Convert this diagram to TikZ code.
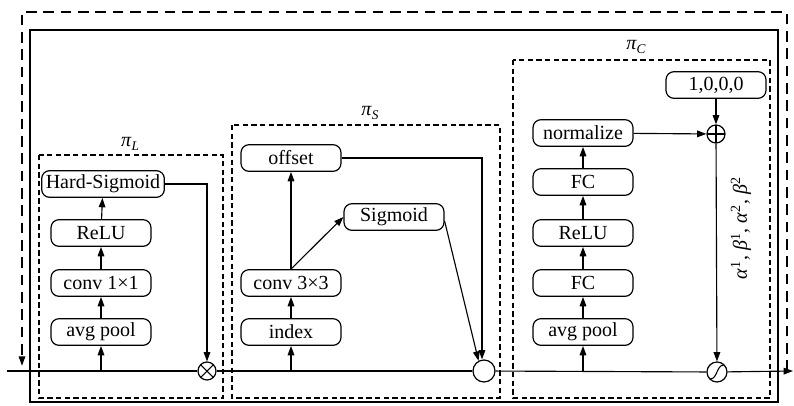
\documentclass[tikz,border=0pt]{standalone}
\usepackage{fontspec}
\setmainfont{Liberation Serif}
\usetikzlibrary{arrows.meta}
\tikzset{
  blk/.style={draw, line width=0.9pt, rounded corners=6pt, minimum width=75pt,
    minimum height=20pt, inner sep=2pt, font=\fontsize{15pt}{17pt}\selectfont},
  arr/.style={-{Triangle[length=7pt,width=5pt]}, line width=0.85pt},
  ln/.style={line width=0.85pt},
  grp/.style={line width=0.9pt, dash pattern=on 4pt off 2.5pt},
  outerdash/.style={line width=0.9pt, dash pattern=on 8pt off 5pt},
  lbl/.style={font=\fontsize{15pt}{17pt}\selectfont},
  opnode/.style={draw, circle, line width=0.9pt, inner sep=0pt, fill=white},
  mulop/.style={opnode, minimum size=13.5pt, path picture={
    \draw[line width=0.8pt] (path picture bounding box.south west) -- (path picture bounding box.north east)
      (path picture bounding box.north west) -- (path picture bounding box.south east);}},
  addop/.style={opnode, minimum size=13.5pt, path picture={
    \draw[line width=0.8pt] (path picture bounding box.south) -- (path picture bounding box.north)
      (path picture bounding box.west) -- (path picture bounding box.east);}},
  combop/.style={opnode, minimum size=16.5pt},
  mixop/.style={opnode, minimum size=15pt, path picture={
    \draw[line width=0.8pt] ([shift={(-5pt,-5pt)}]path picture bounding box.center)
      .. controls ([shift={(0pt,-6pt)}]path picture bounding box.center) and ([shift={(0pt,6pt)}]path picture bounding box.center)
      .. ([shift={(5pt,5pt)}]path picture bounding box.center);}},
}
\begin{document}
\begin{tikzpicture}[x=0.75pt, y=-0.75pt]
\useasboundingbox (0,0) rectangle (794,405);

% frames
\coordinate (outTL) at (22,12);
\coordinate (outTR) at (787,12);
\draw[line width=1.1pt] (30,30) rectangle (778,402);
\draw[grp] (39,155) rectangle (223,398);
\draw[grp] (232,125) rectangle (500,398);
\draw[grp] (513,60) rectangle (770,398);
\node[lbl] (piL) at (130,144) {\textit{π}\raisebox{-0.45ex}{\fontsize{10pt}{12pt}\selectfont\textit{L}}};
\node[lbl] (piS) at (370,113) {\textit{π}\raisebox{-0.45ex}{\fontsize{10pt}{12pt}\selectfont\textit{S}}};
\node[lbl] (piC) at (636,47) {\textit{π}\raisebox{-0.45ex}{\fontsize{10pt}{12pt}\selectfont\textit{C}}};

% main line end points
\coordinate (start) at (7,371);
\coordinate (finish) at (793,371);
\coordinate (skipin) at (787,371);
\coordinate (skipout) at (22,371);

% pi_L branch
\node[blk, minimum width=92pt, inner xsep=1pt] (hs) at (103,184) {Hard-Sigmoid};
\node[blk] (reluL) at (101,233) {ReLU};
\node[blk] (convL) at (101,283) {conv 1×1};
\node[blk] (poolL) at (101,332) {avg pool};
\node[mulop] (mulL) at (207,371) {};

% pi_S branch
\node[blk] (offset) at (291,158) {offset};
\node[blk] (conv3) at (291,283) {conv 3×3};
\node[blk] (index) at (291,332) {index};
\node[blk] (sig) at (394,217) {Sigmoid};
\node[combop] (circS) at (484,371) {};

% pi_C branch
\node[blk] (norm) at (583,133) {normalize};
\node[blk] (fc2) at (583,182) {FC};
\node[blk] (reluC) at (583,233) {ReLU};
\node[blk] (fc1) at (583,283) {FC};
\node[blk] (poolC) at (583,332) {avg pool};
\node[blk] (init) at (716,85) {1,0,0,0};
\node[addop] (plus) at (716,134) {};
\node[mixop] (mix) at (717,372) {};
\node[lbl, rotate=90] (coef) at (741,228)
  {\textit{α}\textsuperscript{1}, \textit{β}\textsuperscript{1}, \textit{α}\textsuperscript{2}, \textit{β}\textsuperscript{2}};

% main path
\draw[ln] (start) -- (mulL);
\draw[ln] (mulL) -- (circS);
\draw[ln] (circS) -- (mix);
\draw[arr] (mix) -- (finish);

% skip connection
\draw[outerdash, arr] (skipin) -- (outTR) -- (outTL) -- ([yshift=4pt]skipout);

% pi_L connectors
\draw[arr] (poolL |- start) -- (poolL);
\draw[arr] (poolL) -- (convL);
\draw[arr] (convL) -- (reluL);
\draw[arr] (reluL) -- (hs);
\draw[arr] (hs.east) -| (mulL.north);

% pi_S connectors
\draw[arr] (index |- start) -- (index);
\draw[arr] (index) -- (conv3);
\draw[arr] (conv3) -- (offset);
\draw[arr] (conv3.north) -- (sig.west);
\draw[arr] (offset.east) -| ([xshift=-1.5pt]circS.north);
\draw[arr] ([yshift=-3pt]sig.east) -- (circS.118);

% pi_C connectors
\draw[arr] (poolC |- start) -- (poolC);
\draw[arr] (poolC) -- (fc1);
\draw[arr] (fc1) -- (reluC);
\draw[arr] (reluC) -- (fc2);
\draw[arr] (fc2) -- (norm);
\draw[arr] (norm) -- (plus);
\draw[arr] (init) -- (plus);
\draw[arr] (plus) -- (mix);
\end{tikzpicture}
\end{document}
